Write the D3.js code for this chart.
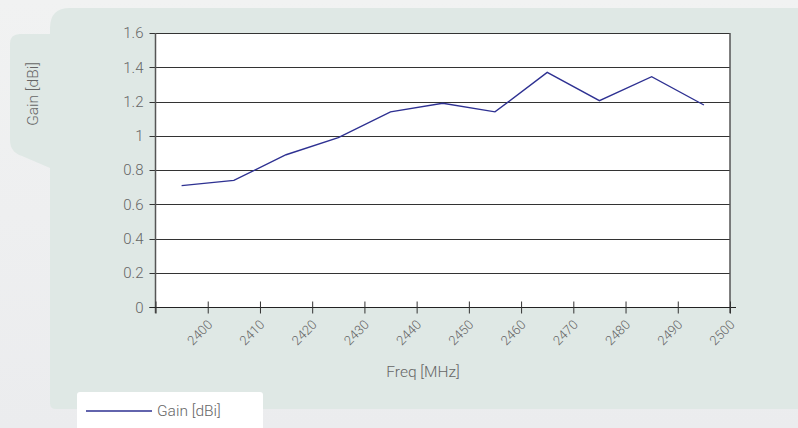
<html lang="en">
<head>
  <meta charset="UTF-8">
  <title>Gain vs Freq</title>
  <script src="https://d3js.org/d3.v7.min.js"></script>
  <style>
    body { margin: 0; background: #eff0f1; font-family: Roboto, "Noto Sans", sans-serif; }
  </style>
</head>
<body>
<div id="chart"></div>
<script>
// data
const freqs = [2395, 2405, 2415, 2425, 2435, 2445, 2455, 2465, 2475, 2485, 2495];
const gain = [0.71, 0.74, 0.89, 0.99, 1.14, 1.19, 1.14, 1.37, 1.205, 1.345, 1.18];
const xTicks = [2390, 2400, 2410, 2420, 2430, 2440, 2450, 2460, 2470, 2480, 2490, 2500];
const yTicks = [0, 0.2, 0.4, 0.6, 0.8, 1, 1.2, 1.4, 1.6];
const seriesName = "Gain [dBi]";

const W = 798, H = 428;
const svg = d3.select("#chart").append("svg")
  .attr("width", W).attr("height", H);

const defs = svg.append("defs");
const grad = defs.append("linearGradient").attr("id", "bg").attr("x1", 0).attr("y1", 0).attr("x2", 0).attr("y2", 1);
grad.append("stop").attr("offset", 0).attr("stop-color", "#f1f2f2");
grad.append("stop").attr("offset", 1).attr("stop-color", "#ebecee");
svg.append("rect").attr("width", W).attr("height", H).attr("fill", "url(#bg)");

// panel + side tab
const panel = "#dfe8e5";
svg.append("path")
  .attr("d", "M50,28 Q50,8 70,8 L798,8 L798,409 L56,409 Q50,409 50,403 Z")
  .attr("fill", panel);
svg.append("path")
  .attr("d", "M50,34 L20,34 Q10,34 10,44 L10,140 Q10,152 22,156 L50,168 Z")
  .attr("fill", panel);

const x = d3.scaleLinear().domain([2390, 2500]).range([155.5, 730]);
const y = d3.scaleLinear().domain([0, 1.6]).range([307.3, 33]);

// plot area
svg.append("rect")
  .attr("x", x(2390)).attr("y", y(1.6))
  .attr("width", x(2500) - x(2390)).attr("height", y(0) - y(1.6))
  .attr("fill", "#fff");

// gridlines
svg.append("g").selectAll("line").data(yTicks).join("line")
  .attr("x1", x(2390) - 6).attr("x2", x(2500))
  .attr("y1", d => Math.round(y(d)) + 0.5).attr("y2", d => Math.round(y(d)) + 0.5)
  .attr("stroke", "#333").attr("stroke-width", 1);

// right border
svg.append("line")
  .attr("x1", x(2500)).attr("x2", x(2500))
  .attr("y1", y(1.6)).attr("y2", y(0) + 6)
  .attr("stroke", "#555").attr("stroke-width", 1.5);

// y axis
const yAxis = svg.append("g")
  .attr("transform", `translate(${x(2390)},0)`)
  .call(d3.axisLeft(y).tickValues(yTicks).tickSize(6).tickFormat(d3.format("~g")));
yAxis.select(".domain").attr("stroke", "#555").attr("stroke-width", 1.5)
  .attr("d", `M0,${y(1.6)}V${y(0) + 6}`);
yAxis.selectAll(".tick line").remove();
yAxis.selectAll("text")
  .attr("x", -12)
  .attr("fill", "#666").style("font-size", "15px").style("font-weight", 300)
  .style("font-family", "Roboto, sans-serif");

// x axis
const xAxis = svg.append("g")
  .attr("transform", `translate(0,${Math.round(y(0)) + 0.5})`)
  .call(d3.axisBottom(x).tickValues(xTicks).tickSize(6).tickFormat(d3.format("d")));
xAxis.select(".domain").attr("stroke", "#222").attr("d", `M${x(2390) - 6},0H${x(2500) + 6}`);
xAxis.selectAll(".tick line").attr("y1", -6).attr("y2", 6).attr("stroke", "#333");
xAxis.selectAll(".tick").filter(d => d === 2390).select("text").remove();
xAxis.selectAll("text")
  .attr("y", 0).attr("dy", 0)
  .attr("transform", "translate(5,18) rotate(-45)")
  .attr("text-anchor", "end")
  .attr("fill", "#666").style("font-size", "13px").style("font-weight", 300)
  .style("font-family", "Roboto, sans-serif");

// line
svg.append("path")
  .datum(freqs.map((f, i) => [f, gain[i]]))
  .attr("fill", "none")
  .attr("stroke", "#2e3192")
  .attr("stroke-width", 1.4)
  .attr("d", d3.line().x(d => x(d[0])).y(d => y(d[1])));

// axis titles
svg.append("text")
  .attr("x", 423).attr("y", 377)
  .attr("text-anchor", "middle")
  .attr("fill", "#666").style("font-size", "15.5px").style("font-weight", 300)
  .text("Freq [MHz]");
svg.append("text")
  .attr("transform", "translate(38,94) rotate(-90)")
  .attr("text-anchor", "middle")
  .attr("fill", "#666").style("font-size", "15.5px").style("font-weight", 300)
  .text(seriesName);

// legend
svg.append("rect")
  .attr("x", 77).attr("y", 392).attr("width", 186).attr("height", 44).attr("rx", 3)
  .attr("fill", "#fff");
svg.append("line")
  .attr("x1", 86).attr("x2", 152).attr("y1", 411).attr("y2", 411)
  .attr("stroke", "#2e3192").attr("stroke-width", 1.4);
svg.append("text")
  .attr("x", 157).attr("y", 416)
  .attr("fill", "#666").style("font-size", "15.5px").style("font-weight", 300)
  .text(seriesName);
</script>
</body>
</html>
